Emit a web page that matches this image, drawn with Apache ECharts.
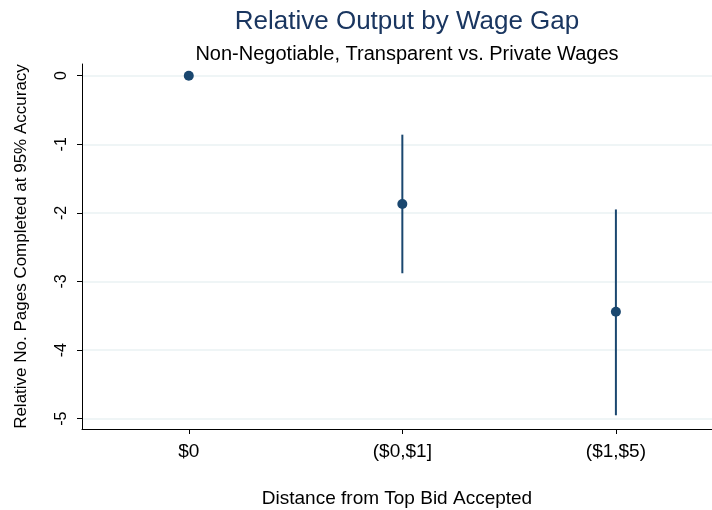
<!DOCTYPE html>
<html>
<head>
<meta charset="utf-8">
<script src="https://cdn.jsdelivr.net/npm/echarts@6/dist/echarts.min.js"></script>
<style>
  html, body { margin: 0; padding: 0; background: #fff; }
  #chart { width: 712px; height: 510px; }
</style>
</head>
<body>
<div id="chart"></div>
<script>
// categories on the x axis
var categories = ['$0', '($0,$1]', '($1,$5)'];
// point estimates and 95% bounds
var estimates = [0, -1.87, -3.44];
var upper = [0, -0.86, -1.95];
var lower = [0, -2.88, -4.95];
var yTicks = [0, -1, -2, -3, -4, -5];

var navy = '#1a476f';
var myChart = echarts.init(document.getElementById('chart'));

var pointData = estimates.map(function (v, i) { return [i, v]; });
var barData = [];
for (var i = 0; i < categories.length; i++) {
    if (upper[i] !== lower[i]) barData.push([i, lower[i], upper[i]]);
}

var option = {
    backgroundColor: '#fff',
    animation: false,
    title: [
        {
            text: 'Relative Output by Wage Gap',
            left: 402, top: 4, textAlign: 'center',
            textStyle: { fontFamily: 'Liberation Sans', fontSize: 26, fontWeight: 'normal', color: '#1a3660' }
        },
        {
            text: 'Non-Negotiable, Transparent vs. Private Wages',
            left: 402, top: 39, textAlign: 'center',
            textStyle: { fontFamily: 'Liberation Sans', fontSize: 20, fontWeight: 'normal', color: '#000' }
        }
    ],
    grid: { left: 82, right: 0, top: 64, bottom: 81, outerBoundsMode: 'none', containLabel: false },
    xAxis: {
        type: 'value',
        min: -0.5, max: 2.45,
        name: 'Distance from Top Bid Accepted',
        nameLocation: 'middle', nameGap: 60,
        nameTextStyle: { fontFamily: 'Liberation Sans', fontSize: 19, color: '#000' },
        axisLine: { show: true, onZero: false, lineStyle: { color: '#000', width: 1 } },
        axisTick: { show: true, length: 5, customValues: [0, 1, 2], lineStyle: { color: '#000' } },
        axisLabel: {
            customValues: [0, 1, 2], margin: 13,
            fontFamily: 'Liberation Sans', fontSize: 19, color: '#000',
            formatter: function (v) { return categories[Math.round(v)]; }
        },
        splitLine: { show: false }
    },
    yAxis: {
        type: 'value',
        min: -5.15, max: 0.17,
        name: 'Relative No. Pages Completed at 95% Accuracy',
        nameLocation: 'middle', nameGap: 52,
        nameTextStyle: { fontFamily: 'Liberation Sans', fontSize: 17, color: '#000' },
        axisLine: { show: true, onZero: false, lineStyle: { color: '#000', width: 1 } },
        axisTick: { show: true, length: 5, customValues: yTicks, lineStyle: { color: '#000' } },
        axisLabel: {
            customValues: yTicks, rotate: 90, margin: 12,
            fontFamily: 'Liberation Sans', fontSize: 16, color: '#000'
        },
        splitLine: { show: true, lineStyle: { color: '#eaf2f3', width: 1.5 } }
    },
    series: [
        {
            type: 'custom',
            data: barData,
            renderItem: function (params, api) {
                var top = api.coord([api.value(0), api.value(2)]);
                var bot = api.coord([api.value(0), api.value(1)]);
                return {
                    type: 'line',
                    shape: { x1: top[0], y1: top[1], x2: bot[0], y2: bot[1] },
                    style: { stroke: navy, lineWidth: 2 }
                };
            },
            z: 2
        },
        {
            type: 'scatter',
            data: pointData,
            symbol: 'circle',
            symbolSize: 10,
            itemStyle: { color: navy, opacity: 1 },
            z: 3
        }
    ]
};
myChart.setOption(option);
</script>
</body>
</html>
